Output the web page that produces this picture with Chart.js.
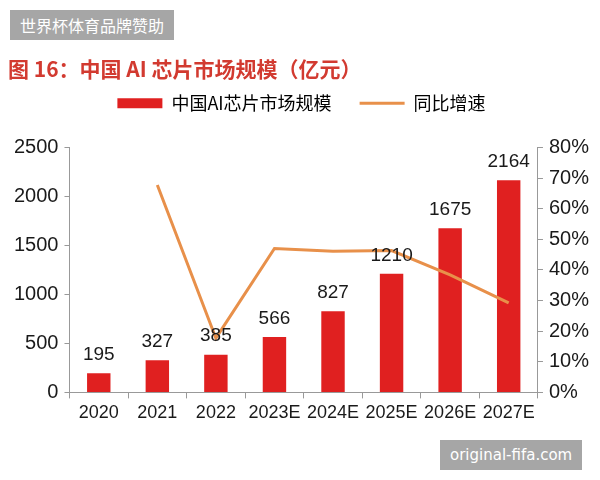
<!DOCTYPE html>
<html>
<head>
<meta charset="utf-8">
<script src="https://cdn.jsdelivr.net/npm/chart.js@4"></script>
<style>
  html, body { margin: 0; padding: 0; background: #fff; }
  #wrap { position: relative; width: 600px; height: 480px; }
  .mark {
    position: absolute; background: #a6a6a6; color: #fff;
    font-family: "Noto Sans CJK SC", "Liberation Sans", sans-serif;
    font-size: 16px; line-height: 30px; padding: 0 10px; white-space: nowrap;
  }
</style>
</head>
<body>
<div id="wrap">
  <canvas id="marketChart" width="600" height="480"></canvas>
  <div class="mark" style="left:10px;top:10px;">世界杯体育品牌赞助</div>
  <div class="mark" style="left:440px;top:440px;font-family:'DejaVu Sans',sans-serif;font-size:15px;">original-fifa.com</div>
</div>
<script>
// ----------------------
// DATA
// ----------------------
const years = ["2020", "2021", "2022", "2023E", "2024E", "2025E", "2026E", "2027E"];
const marketSize = [195, 327, 385, 566, 827, 1210, 1675, 2164];   // 亿元
const growthRate = [null, 67.7, 17.7, 47.0, 46.1, 46.3, 38.4, 29.2]; // %

const latin = "'Liberation Sans', Arial, sans-serif";
const cjk = "'Noto Sans CJK SC', 'Liberation Sans', sans-serif";

// values above the bars
const barValueLabels = {
  id: "barValueLabels",
  afterDatasetsDraw(chart) {
    const ctx = chart.ctx;
    const meta = chart.getDatasetMeta(1);
    ctx.save();
    ctx.fillStyle = "#1a1a1a";
    ctx.font = "19px " + latin;
    ctx.textAlign = "center";
    ctx.textBaseline = "bottom";
    meta.data.forEach((bar, i) => {
      ctx.fillText(marketSize[i], bar.x, bar.y - 9);
    });
    ctx.restore();
  }
};

const ctx = document.getElementById("marketChart").getContext("2d");

const marketChart = new Chart(ctx, {
  data: {
    labels: years,
    datasets: [
      {
        type: "line",
        label: "同比增速",
        data: growthRate,
        yAxisID: "y1",
        borderColor: "#e8904a",
        backgroundColor: "#e8904a",
        borderWidth: 3,
        pointRadius: 0,
        tension: 0,
        order: 0
      },
      {
        type: "bar",
        label: "中国AI芯片市场规模",
        data: marketSize,
        yAxisID: "y",
        backgroundColor: "#e02020",
        categoryPercentage: 0.8,
        barPercentage: 0.5,
        order: 1
      }
    ]
  },
  options: {
    responsive: false,
    animation: false,
    layout: { padding: { top: 56, left: 8, right: 5, bottom: 52 } },
    plugins: {
      title: {
        display: true,
        text: "图 16：中国 AI 芯片市场规模（亿元）",
        align: "start",
        color: "#d23a30",
        font: { family: cjk, size: 21, weight: "bold" },
        padding: { top: 0, bottom: -15 }
      },
      // empty spacer between legend and plot
      subtitle: {
        display: true,
        text: "",
        weight: 500,
        font: { size: 1 },
        padding: { top: 0, bottom: 24 }
      },
      legend: {
        display: true,
        position: "top",
        labels: {
          color: "#1a1a1a",
          font: { family: cjk, size: 18 },
          usePointStyle: true,
          pointStyleWidth: 45,
          boxHeight: 10,
          padding: 28,
          generateLabels(chart) {
            return [
              { text: "中国AI芯片市场规模", pointStyle: "rect", fillStyle: "#e02020", strokeStyle: "#e02020", lineWidth: 0, datasetIndex: 1 },
              { text: "同比增速", pointStyle: "line", fillStyle: "#e8904a", strokeStyle: "#e8904a", lineWidth: 3, datasetIndex: 0 }
            ];
          }
        }
      },
      tooltip: { enabled: false }
    },
    scales: {
      x: {
        grid: { display: true, drawOnChartArea: false, tickLength: 6, color: "#999" },
        border: { color: "#999" },
        ticks: { color: "#1a1a1a", font: { family: latin, size: 18 }, padding: 4, maxRotation: 0 }
      },
      y: {
        position: "left",
        min: 0, max: 2500,
        grid: { display: true, drawOnChartArea: false, tickLength: 5, color: "#999" },
        border: { color: "#999" },
        ticks: {
          stepSize: 500, color: "#1a1a1a", font: { family: latin, size: 20 }, padding: 6,
          callback: v => String(v)
        }
      },
      y1: {
        position: "right",
        min: 0, max: 80,
        grid: { display: true, drawOnChartArea: false, tickLength: 5, color: "#999" },
        border: { color: "#999" },
        ticks: {
          stepSize: 10, color: "#1a1a1a", font: { family: latin, size: 20 }, padding: 6,
          callback: v => v + "%"
        }
      }
    }
  },
  plugins: [barValueLabels]
});
</script>
</body>
</html>
